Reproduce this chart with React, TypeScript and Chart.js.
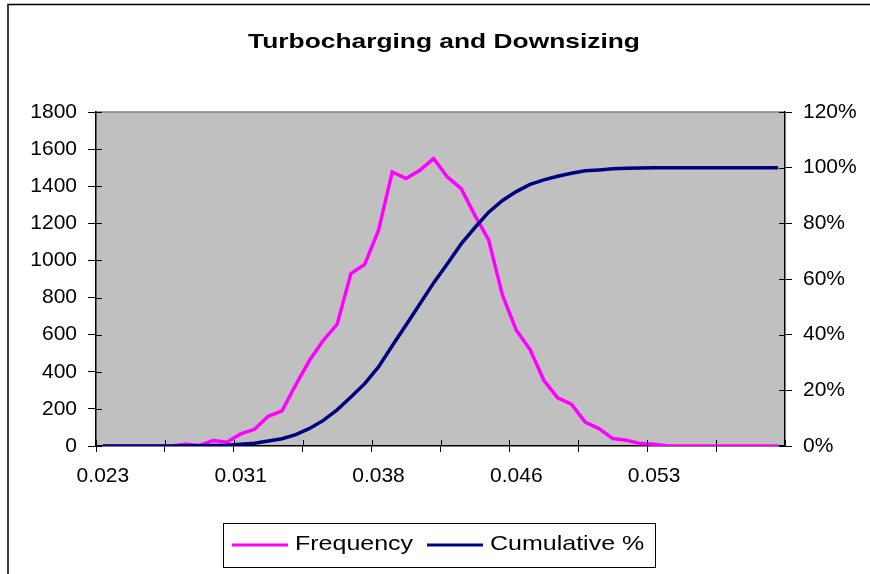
import { useEffect, useRef } from 'react';
import { Chart, registerables } from 'chart.js';

Chart.register(...registerables);

const chartTitle = 'Turbocharging and Downsizing';

const binLabels = [
  '0.0232', '0.0240', '0.0247', '0.0255', '0.0262', '0.0270', '0.0277', '0.0285', '0.0292', '0.0300',
  '0.0307', '0.0315', '0.0322', '0.0330', '0.0337', '0.0345', '0.0352', '0.0360', '0.0367', '0.0375',
  '0.0382', '0.0390', '0.0397', '0.0405', '0.0412', '0.0420', '0.0427', '0.0435', '0.0442', '0.0450',
  '0.0457', '0.0465', '0.0472', '0.0480', '0.0487', '0.0495', '0.0502', '0.0510', '0.0517', '0.0525',
  '0.0532', '0.0540', '0.0547', '0.0555', '0.0562', '0.0570', '0.0577', '0.0585', '0.0592', '0.0600',
];

const frequency = [
  0, 0, 0, 0, 0, 0, 10, 3, 30, 20,
  65, 90, 160, 189, 330, 462, 570, 656, 929, 979,
  1162, 1477, 1441, 1486, 1549, 1450, 1387, 1243, 1109, 812,
  624, 520, 354, 259, 225, 129, 94, 40, 31, 13,
  9, 0, 0, 0, 0, 0, 0, 0, 0, 0,
];

const cumulativePct = [
  0, 0, 0, 0, 0, 0, 0.05, 0.07, 0.2, 0.3,
  0.6, 1.0, 1.8, 2.6, 4.1, 6.3, 9.2, 13.0, 17.6, 22.4,
  28.4, 36.0, 43.5, 51.0, 58.6, 65.5, 72.6, 78.5, 84.0, 88.2,
  91.4, 94.0, 95.6, 96.9, 98.0, 98.9, 99.2, 99.6, 99.8, 99.9,
  100, 100, 100, 100, 100, 100, 100, 100, 100, 100,
];

const seriesNames = ['Frequency', 'Cumulative %'];
const seriesColors = ['#FF00FF', '#000080'];
const freqAxis = { min: 0, max: 1800, step: 200 };
const pctAxis = { min: 0, max: 120, step: 20 };
const labelEvery = 10;
const tickEvery = 5;

const FONT = '"Liberation Sans", Arial, sans-serif';

export default function App() {
  const canvasRef = useRef<HTMLCanvasElement | null>(null);

  useEffect(() => {
    document.body.style.margin = '0';
    const canvas = canvasRef.current;
    if (!canvas) return;

    const decor = {
      id: 'decor',
      beforeDraw(chart: any) {
        const { ctx, chartArea: a } = chart;
        ctx.save();
        ctx.fillStyle = '#ffffff';
        ctx.fillRect(0, 0, chart.width, chart.height);
        // outer frame
        ctx.strokeStyle = '#000000';
        ctx.lineWidth = 1.5;
        ctx.beginPath();
        ctx.moveTo(8, chart.height + 2);
        ctx.lineTo(8, 4.5);
        ctx.lineTo(chart.width + 2, 4.5);
        ctx.stroke();
        // plot area
        ctx.fillStyle = '#C0C0C0';
        ctx.fillRect(a.left, a.top, a.right - a.left, a.bottom - a.top);
        ctx.strokeStyle = '#808080';
        ctx.lineWidth = 1.5;
        ctx.beginPath();
        ctx.moveTo(a.left, a.top);
        ctx.lineTo(a.right, a.top);
        ctx.stroke();
        ctx.restore();
      },
      afterDraw(chart: any) {
        const { ctx, chartArea: a } = chart;
        ctx.save();
        // inner halves of tick marks
        ctx.strokeStyle = '#000000';
        ctx.lineWidth = 1;
        const yL = chart.scales.y;
        const yR = chart.scales.y1;
        ctx.beginPath();
        yL.ticks.forEach((t: any) => {
          const p = Math.round(yL.getPixelForValue(t.value)) + 0.5;
          ctx.moveTo(a.left, p);
          ctx.lineTo(a.left + 6, p);
        });
        yR.ticks.forEach((t: any) => {
          const p = Math.round(yR.getPixelForValue(t.value)) + 0.5;
          ctx.moveTo(a.right - 6, p);
          ctx.lineTo(a.right, p);
        });
        const n = binLabels.length;
        const w = (a.right - a.left) / n;
        for (let i = 0; i <= n; i += tickEvery) {
          const p = Math.round(a.left + i * w) + 0.5;
          ctx.moveTo(p, a.bottom);
          ctx.lineTo(p, a.bottom - 6);
        }
        ctx.stroke();

        // title
        ctx.fillStyle = '#000000';
        ctx.font = 'bold 21px ' + FONT;
        ctx.textAlign = 'center';
        ctx.textBaseline = 'alphabetic';
        ctx.save();
        ctx.translate(444, 48);
        ctx.scale(1.255, 1);
        ctx.fillText(chartTitle, 0, 0);
        ctx.restore();

        // legend
        const bx = 223.5, by = 523.5, bw = 432, bh = 44;
        ctx.fillStyle = '#ffffff';
        ctx.fillRect(bx, by, bw, bh);
        ctx.strokeStyle = '#000000';
        ctx.lineWidth = 1;
        ctx.strokeRect(bx, by, bw, bh);
        ctx.font = '21px ' + FONT;
        ctx.textAlign = 'left';
        const cy = 545;
        const sx = 1.19;
        let x = 232;
        seriesNames.forEach((name, i) => {
          ctx.strokeStyle = seriesColors[i];
          ctx.lineWidth = 3;
          ctx.beginPath();
          ctx.moveTo(x, cy);
          ctx.lineTo(x + 56, cy);
          ctx.stroke();
          x += 63;
          ctx.fillStyle = '#000000';
          ctx.save();
          ctx.translate(x, 550);
          ctx.scale(sx, 1);
          ctx.fillText(name, 0, 0);
          ctx.restore();
          x += ctx.measureText(name).width * sx + 14;
        });
        ctx.restore();
      },
    };

    const tickFont = { family: FONT, size: 21 };

    const chart = new Chart(canvas, {
      type: 'line',
      data: {
        labels: binLabels,
        datasets: [
          {
            label: seriesNames[0],
            data: frequency,
            borderColor: seriesColors[0],
            backgroundColor: seriesColors[0],
            borderWidth: 3.5,
            pointRadius: 0,
            tension: 0,
            yAxisID: 'y',
            order: 1,
          },
          {
            label: seriesNames[1],
            data: cumulativePct,
            borderColor: seriesColors[1],
            backgroundColor: seriesColors[1],
            borderWidth: 3.5,
            pointRadius: 0,
            tension: 0,
            yAxisID: 'y1',
            order: 0,
          },
        ],
      },
      options: {
        animation: false,
        responsive: false,
        devicePixelRatio: 1,
        layout: { padding: { top: 112, left: 0, right: 0, bottom: 0 } },
        plugins: {
          legend: { display: false },
          title: { display: false },
          tooltip: { enabled: false },
        },
        scales: {
          x: {
            type: 'category',
            offset: true,
            grid: {
              offset: true,
              drawOnChartArea: false,
              tickLength: 6,
              lineWidth: 1,
              color: (c: any) => (c.index % tickEvery === 0 ? '#000000' : 'rgba(0,0,0,0)'),
            },
            border: { color: '#000000', width: 1.5 },
            ticks: {
              autoSkip: false,
              maxRotation: 0,
              minRotation: 0,
              padding: 12,
              color: '#000000',
              font: tickFont,
              callback: (_v: any, i: number) =>
                i % labelEvery === 0 ? Number(binLabels[i]).toFixed(3) : '',
            },
            afterFit: (s: any) => {
              s.height = 128;
            },
          },
          y: {
            position: 'left',
            min: freqAxis.min,
            max: freqAxis.max,
            grid: { drawOnChartArea: false, tickLength: 8, color: '#000000', lineWidth: 1 },
            border: { color: '#000000', width: 1.5 },
            ticks: {
              stepSize: freqAxis.step,
              padding: 11,
              color: '#000000',
              font: tickFont,
              callback: (v: any) => String(v),
            },
            afterFit: (s: any) => {
              s.width = 96;
            },
          },
          y1: {
            position: 'right',
            min: pctAxis.min,
            max: pctAxis.max,
            grid: { drawOnChartArea: false, tickLength: 7, color: '#000000', lineWidth: 1 },
            border: { color: '#000000', width: 1.5 },
            ticks: {
              stepSize: pctAxis.step,
              padding: 11,
              color: '#000000',
              font: tickFont,
              callback: (v: any) => v + '%',
            },
            afterFit: (s: any) => {
              s.width = 85;
            },
          },
        },
      },
      plugins: [decor],
    });

    return () => {
      chart.destroy();
    };
  }, []);

  return (
    <div style={{ width: 870, height: 574 }}>
      <canvas ref={canvasRef} width={870} height={574} style={{ display: 'block' }} />
    </div>
  );
}
